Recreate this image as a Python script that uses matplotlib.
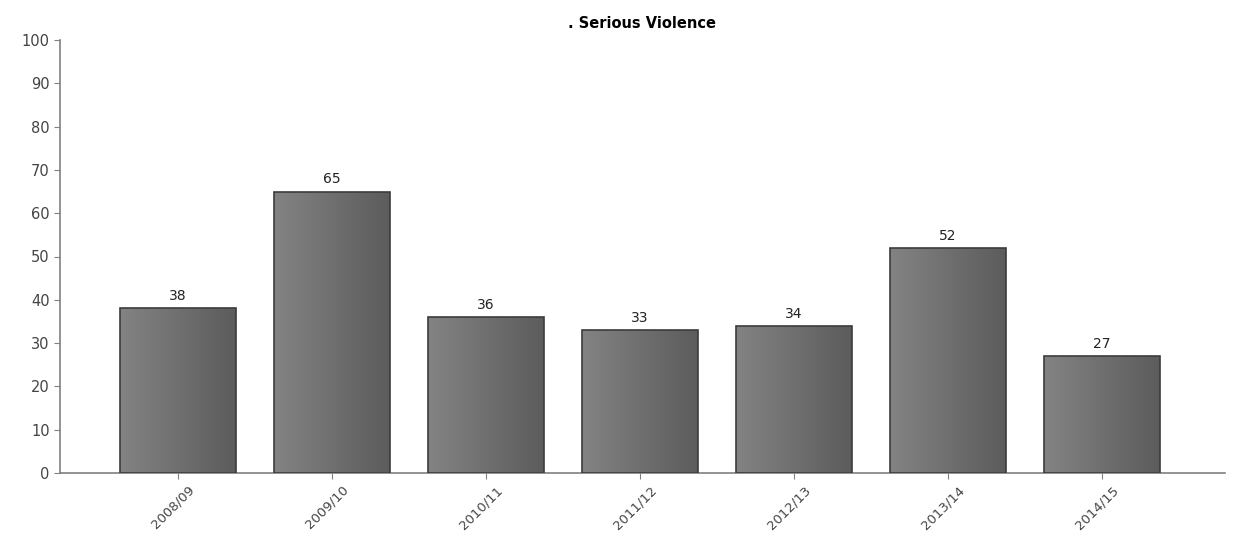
import matplotlib
matplotlib.use('Agg')
import matplotlib.pyplot as plt
import matplotlib.transforms as mtransforms
import numpy as np

years = ['2008/09', '2009/10', '2010/11', '2011/12', '2012/13', '2013/14', '2014/15']
counts = [38, 65, 36, 33, 34, 52, 27]

fig = plt.figure(figsize=(12.33, 5.36), dpi=100)
ax = fig.add_axes([60 / 1233, 1 - 473 / 536, 1165 / 1233, 433 / 536])

x = np.arange(len(years))
bars = ax.bar(x, counts, width=0.75, color='none', edgecolor='#3c3c3c', linewidth=1.2, zorder=3)

# horizontal gradient fill for each bar, clipped to the bar shape
grad = np.linspace(0, 1, 256).reshape(1, -1)
cmap = matplotlib.colors.LinearSegmentedColormap.from_list('g', ['#838383', '#5c5c5c'])
for b in bars:
    x0, y0 = b.get_x(), b.get_y()
    w, h = b.get_width(), b.get_height()
    im = ax.imshow(grad, extent=[x0, x0 + w, y0, y0 + h], aspect='auto', cmap=cmap, zorder=2)
    im.set_clip_path(b)

for xi, v in zip(x, counts):
    ax.text(xi, v + 1.2, str(v), ha='center', va='bottom', fontsize=10, color='#222222')

ax.set_xlim(-0.766, 6.8)
ax.set_ylim(0, 100)
ax.set_yticks(range(0, 101, 10))
ax.set_xticks(x)
ax.set_xticklabels(years, rotation=45, ha='right', rotation_mode='anchor', fontsize=9.5)
ax.tick_params(axis='y', colors='#808080', labelcolor='#444444', labelsize=10.5, length=4)
ax.tick_params(axis='x', colors='#808080', labelcolor='#444444', length=4)

# nudge the rotated labels a little to the right, like the original
offset = mtransforms.ScaledTranslation(10 / 100, 0, fig.dpi_scale_trans)
for lab in ax.get_xticklabels():
    lab.set_transform(lab.get_transform() + offset)

for s in ['top', 'right']:
    ax.spines[s].set_visible(False)
for s in ['left', 'bottom']:
    ax.spines[s].set_color('#808080')
    ax.spines[s].set_linewidth(1.2)

ax.set_title('. Serious Violence', fontsize=10.5, fontweight='bold', pad=9)

fig.savefig('out.png', dpi=100)
